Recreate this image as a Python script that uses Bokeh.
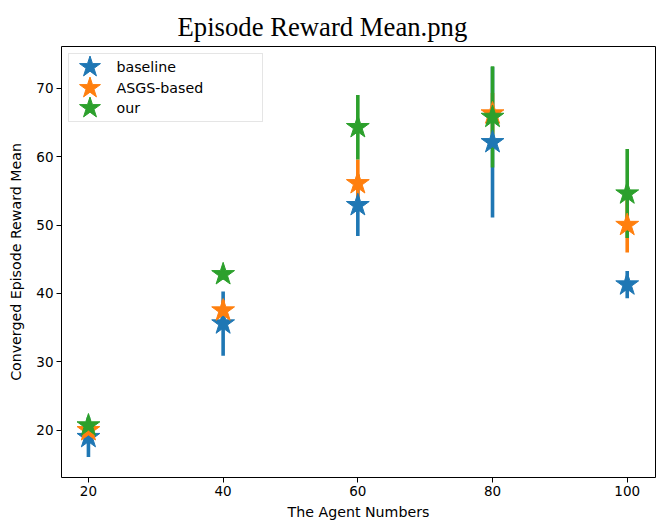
from bokeh.plotting import figure
from bokeh.models import Range1d, Legend, LegendItem, FixedTicker, Title
from bokeh.embed import file_html
from bokeh.resources import INLINE

agents = [20, 40, 60, 80, 100]
series = ["baseline", "ASGS-based", "our"]
colors = ["#1f77b4", "#ff7f0e", "#2ca02c"]
baseline_mean = [19.0, 35.6, 52.9, 62.1, 41.3]
baseline_err = [2.9, 4.7, 4.5, 11.0, 2.0]
asgs_mean = [20.0, 37.5, 56.1, 66.3, 50.0]
asgs_err = [1.0, 1.5, 3.5, 3.0, 4.0]
our_mean = [20.7, 42.8, 64.3, 65.8, 54.6]
our_err = [0.8, 0.8, 4.7, 7.4, 6.5]
x_ticks = [20, 40, 60, 80, 100]
y_ticks = [20, 30, 40, 50, 60, 70]

means = [baseline_mean, asgs_mean, our_mean]
errs = [baseline_err, asgs_err, our_err]

p = figure(width=659, height=522, output_backend="svg", toolbar_location=None,
           x_range=Range1d(16.0, 104.2), y_range=Range1d(13.1, 76.1),
           min_border_left=61, min_border_right=4, min_border_top=46, min_border_bottom=30)

p.title = Title(text="Episode Reward Mean.png", align="left", offset=116,
                text_font="Liberation Serif", text_font_size="26.7px",
                text_font_style="normal", text_color="black", standoff=9)

p.xgrid.visible = False
p.ygrid.visible = False
p.outline_line_color = "black"
p.outline_line_width = 1
p.background_fill_color = "white"
p.border_fill_color = "white"

for ax in (p.xaxis[0], p.yaxis[0]):
    ax.axis_line_color = None
    ax.major_tick_in = 0
    ax.major_tick_out = 5
    ax.minor_tick_line_color = None
    ax.major_tick_line_color = "black"
    ax.major_label_text_font = "DejaVu Sans"
    ax.major_label_text_font_size = "13.5px"
    ax.major_label_text_color = "black"
    ax.axis_label_text_font = "DejaVu Sans"
    ax.axis_label_text_font_size = "14.2px"
    ax.axis_label_text_font_style = "normal"
    ax.axis_label_text_color = "black"
    ax.major_label_standoff = 3

p.xaxis.ticker = FixedTicker(ticks=x_ticks)
p.yaxis.ticker = FixedTicker(ticks=y_ticks)
p.xaxis.axis_label = "The Agent Numbers"
p.yaxis.axis_label = "Converged Episode Reward Mean"
p.xaxis.axis_label_standoff = 5
p.yaxis.axis_label_standoff = 9

# error bars first (drawn beneath all markers)
for m, e, c in zip(means, errs, colors):
    lo = [a - b for a, b in zip(m, e)]
    hi = [a + b for a, b in zip(m, e)]
    p.segment(x0=agents, y0=lo, x1=agents, y1=hi, line_color=c, line_width=3.6)

renderers = []
for m, c in zip(means, colors):
    r = p.scatter(x=agents, y=m, marker="star", size=24, fill_color=c, line_color=c, line_width=1)
    renderers.append(r)

# legend frame (an empty, invisible entry used only for its box)
dummy = p.scatter(x=[], y=[], marker="square", fill_alpha=0, line_alpha=0)
frame_leg = Legend(items=[LegendItem(label="", renderers=[dummy])], location=(7, 355))
frame_leg.padding = 0
frame_leg.margin = 0
frame_leg.glyph_width = 193
frame_leg.glyph_height = 67
frame_leg.label_standoff = 0
frame_leg.label_width = 0
frame_leg.label_height = 0
frame_leg.border_line_color = "#cccccc"
frame_leg.border_line_width = 1
frame_leg.background_fill_color = "white"
frame_leg.background_fill_alpha = 0.8
p.add_layout(frame_leg)

# one legend per entry so that the star glyphs can be as large as in the reference
bottoms = [382.8, 361.8, 341.8]
for s, r, b in zip(series, renderers, bottoms):
    lg = Legend(items=[LegendItem(label=s, renderers=[r])], location=(0.5, b))
    lg.padding = 0
    lg.margin = 0
    lg.spacing = 0
    lg.glyph_width = 55
    lg.glyph_height = 55
    lg.label_standoff = 0
    lg.label_text_font = "DejaVu Sans"
    lg.label_text_font_size = "14.2px"
    lg.label_text_color = "black"
    lg.border_line_color = None
    lg.background_fill_alpha = 0
    p.add_layout(lg)

open("out.html", "w").write(file_html(p, INLINE))
